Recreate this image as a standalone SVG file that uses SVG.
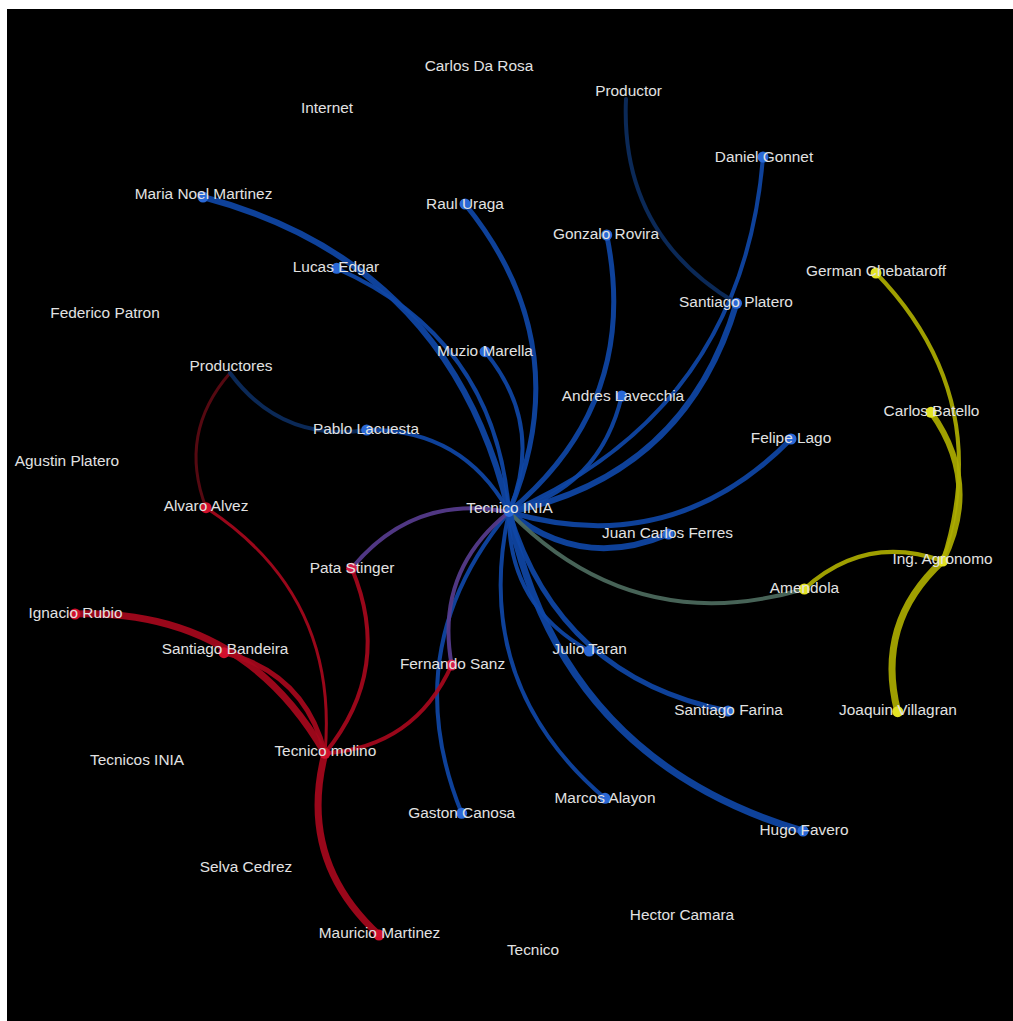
<svg xmlns="http://www.w3.org/2000/svg" width="1013" height="1021" viewBox="0 0 1013 1021">
<style>
  text{font-family:"Liberation Sans",Arial,sans-serif;font-size:15.4px;fill:#e2e2e2;text-anchor:middle}
  .e{fill:none;stroke-linecap:round;opacity:0.92}
  .b{stroke:#0f46a6}
  .db{stroke:#0c2c5e}
  .r{stroke:#a6081c}
  .dr{stroke:#5c0a12}
  .y{stroke:#adad00}
  .p{stroke:#573c8e}
  .g{stroke:#4d6b5e}
  .nb{fill:#2a68d6}
  .nr{fill:#d0102c}
  .np{fill:#d41e48}
  .ny{fill:#e2e224}
</style>
<rect x="0" y="0" width="1013" height="1021" fill="#ffffff"/>
<rect x="7" y="9" width="1006" height="1012" fill="#000000"/>
<g id="edges">
  <path class="e b" stroke-width="6" d="M509,512 Q450.5,262.7 203,197"/>
  <path class="e b" stroke-width="4" d="M509,512 Q496,338.5 336.7,268.3"/>
  <path class="e b" stroke-width="5" d="M509,512 Q579.4,344.8 465,204"/>
  <path class="e b" stroke-width="4" d="M509,512 Q545.1,424.65 485,351.7"/>
  <path class="e b" stroke-width="5" d="M509,512 Q640.95,402.8 606.7,235"/>
  <path class="e b" stroke-width="4" d="M509,512 Q742.5,410.7 763,157"/>
  <path class="e b" stroke-width="6" d="M509,512 Q685.35,475.9 736.5,303.3"/>
  <path class="e b" stroke-width="4" d="M509,512 Q600.15,487.8 621.7,396"/>
  <path class="e b" stroke-width="5" d="M509,512 Q671.9,560.1 791,439"/>
  <path class="e b" stroke-width="6" d="M509,512 Q582.05,570.8 668.3,534"/>
  <path class="e g" stroke-width="4" d="M509,512 Q633.55,639.1 804.3,589"/>
  <path class="e b" stroke-width="4" d="M509,512 Q507.45,605.6 589.3,651"/>
  <path class="e b" stroke-width="5" d="M509,512 Q558.8,677.2 728,711"/>
  <path class="e b" stroke-width="7" d="M509,512 Q560.3,759.7 803,831"/>
  <path class="e b" stroke-width="4" d="M509,512 Q471.1,683.95 605,798.3"/>
  <path class="e b" stroke-width="4" d="M509,512 Q394.95,648.45 461.7,813.3"/>
  <path class="e b" stroke-width="4" d="M509,512 Q462.45,428.3 366.7,430"/>
  <path class="e p" stroke-width="4" d="M509,512 Q413.45,492.95 351.7,568.3"/>
  <path class="e p" stroke-width="4" d="M509,512 Q434.45,571.3 451.7,665"/>
  <path class="e y" stroke-width="4" d="M942.7,561 Q995.75,397 876,273"/>
  <path class="e y" stroke-width="6" d="M942.7,561 Q981.45,483.15 931,412.3"/>
  <path class="e y" stroke-width="7" d="M942.7,561 Q875,622.85 897.7,711.7"/>
  <path class="e y" stroke-width="4" d="M942.7,561 Q865.1,533.5 804.3,589"/>
  <path class="e r" stroke-width="7" d="M325,753.3 Q241.8,608.65 75,614"/>
  <path class="e r" stroke-width="5" d="M325,753.3 Q304.7,672.7 224,652.7"/>
  <path class="e r" stroke-width="3" d="M325,753.3 Q339.2,594.8 206,507.7"/>
  <path class="e r" stroke-width="4" d="M325,753.3 Q393.85,668.8 351.7,568.3"/>
  <path class="e r" stroke-width="4" d="M325,753.3 Q414.85,747.15 451.7,665"/>
  <path class="e r" stroke-width="7" d="M325,753.3 Q297.5,860.35 379,935"/>
  <path class="e dr" stroke-width="3" d="M230,373 Q177.6,433.15 206,507.7"/>
  <path class="e db" stroke-width="4" d="M230,373 Q281.25,442.5 366.7,430"/>
  <path class="e db" stroke-width="4" d="M626,99 Q619.95,234.3 736.5,303.3"/>
</g>
<g id="n-tecnico-inia"><circle class="nb" cx="509" cy="512" r="5"/><text x="509.5" y="512.5">Tecnico INIA</text></g>
<g id="n-carlos-da-rosa"><text x="479" y="71">Carlos Da Rosa</text></g>
<g id="n-productor"><text x="628.5" y="95.5">Productor</text></g>
<g id="n-internet"><text x="327" y="113">Internet</text></g>
<g id="n-daniel-gonnet"><circle class="nb" cx="763" cy="157" r="5.5"/><text x="764" y="161.5">Daniel Gonnet</text></g>
<g id="n-maria-noel-martinez"><circle class="nb" cx="203" cy="197" r="5.5"/><text x="203.5" y="199">Maria Noel Martinez</text></g>
<g id="n-raul-uraga"><circle class="nb" cx="465" cy="204" r="5.5"/><text x="465" y="208.5">Raul Uraga</text></g>
<g id="n-gonzalo-rovira"><circle class="nb" cx="606.7" cy="235" r="5.5"/><text x="606" y="239">Gonzalo Rovira</text></g>
<g id="n-lucas-edgar"><circle class="nb" cx="336.7" cy="268.3" r="5.5"/><text x="336" y="271.5">Lucas Edgar</text></g>
<g id="n-german-chebataroff"><circle class="ny" cx="876" cy="273" r="5.5"/><text x="876" y="276">German Chebataroff</text></g>
<g id="n-santiago-platero"><circle class="nb" cx="736.5" cy="303.3" r="5.5"/><text x="736" y="306.5">Santiago Platero</text></g>
<g id="n-federico-patron"><text x="105" y="318">Federico Patron</text></g>
<g id="n-muzio-marella"><circle class="nb" cx="485" cy="351.7" r="5.5"/><text x="485" y="355.5">Muzio Marella</text></g>
<g id="n-productores"><text x="231" y="371">Productores</text></g>
<g id="n-andres-lavecchia"><circle class="nb" cx="621.7" cy="396" r="5.5"/><text x="623" y="400.5">Andres Lavecchia</text></g>
<g id="n-carlos-batello"><circle class="ny" cx="931" cy="412.3" r="5.5"/><text x="931.5" y="415.5">Carlos Batello</text></g>
<g id="n-pablo-lacuesta"><circle class="nb" cx="366.7" cy="430" r="5.5"/><text x="366" y="434">Pablo Lacuesta</text></g>
<g id="n-felipe-lago"><circle class="nb" cx="791" cy="439" r="5.5"/><text x="791" y="442.5">Felipe Lago</text></g>
<g id="n-agustin-platero"><text x="67" y="466">Agustin Platero</text></g>
<g id="n-alvaro-alvez"><circle class="nr" cx="206" cy="507.7" r="5.5"/><text x="206" y="511">Alvaro Alvez</text></g>
<g id="n-juan-carlos-ferres"><circle class="nb" cx="668.3" cy="534" r="5.5"/><text x="667.5" y="537.5">Juan Carlos Ferres</text></g>
<g id="n-ing-agronomo"><circle class="ny" cx="942.7" cy="561" r="5.5"/><text x="942.5" y="564">Ing. Agronomo</text></g>
<g id="n-pata-stinger"><circle class="np" cx="351.7" cy="568.3" r="5.5"/><text x="352" y="572.5">Pata Stinger</text></g>
<g id="n-amendola"><circle class="ny" cx="804.3" cy="589" r="5.5"/><text x="804.5" y="592.5">Amendola</text></g>
<g id="n-ignacio-rubio"><circle class="nr" cx="75" cy="614" r="5.5"/><text x="75.5" y="618">Ignacio Rubio</text></g>
<g id="n-santiago-bandeira"><circle class="nr" cx="224" cy="652.7" r="5.5"/><text x="225" y="654">Santiago Bandeira</text></g>
<g id="n-julio-taran"><circle class="nb" cx="589.3" cy="651" r="5.5"/><text x="589.7" y="654">Julio Taran</text></g>
<g id="n-fernando-sanz"><circle class="np" cx="451.7" cy="665" r="5.5"/><text x="452.5" y="669">Fernando Sanz</text></g>
<g id="n-santiago-farina"><circle class="nb" cx="728" cy="711" r="5.5"/><text x="728.5" y="715">Santiago Farina</text></g>
<g id="n-joaquin-villagran"><circle class="ny" cx="897.7" cy="711.7" r="5.5"/><text x="898" y="715">Joaquin Villagran</text></g>
<g id="n-tecnico-molino"><circle class="nr" cx="325" cy="753.3" r="5.5"/><text x="325.3" y="755.5">Tecnico molino</text></g>
<g id="n-tecnicos-inia"><text x="137" y="765">Tecnicos INIA</text></g>
<g id="n-marcos-alayon"><circle class="nb" cx="605" cy="798.3" r="5.5"/><text x="605" y="802.5">Marcos Alayon</text></g>
<g id="n-gaston-canosa"><circle class="nb" cx="461.7" cy="813.3" r="5.5"/><text x="461.7" y="818">Gaston Canosa</text></g>
<g id="n-hugo-favero"><circle class="nb" cx="803" cy="831" r="5.5"/><text x="804" y="835">Hugo Favero</text></g>
<g id="n-selva-cedrez"><text x="246" y="872">Selva Cedrez</text></g>
<g id="n-hector-camara"><text x="682" y="920">Hector Camara</text></g>
<g id="n-mauricio-martinez"><circle class="nr" cx="379" cy="935" r="5.5"/><text x="379.5" y="937.5">Mauricio Martinez</text></g>
<g id="n-tecnico"><text x="533" y="955">Tecnico</text></g>
</svg>
